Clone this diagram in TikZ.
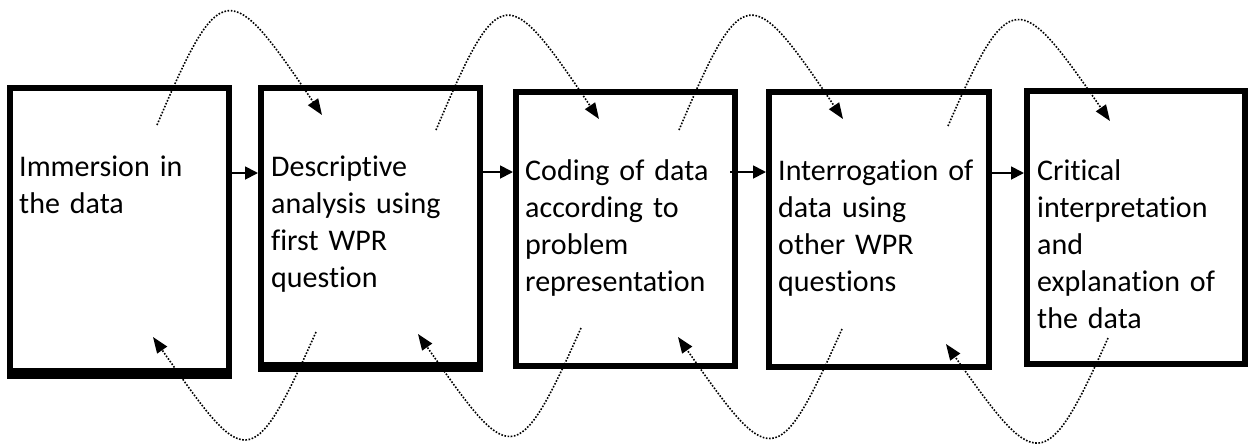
\documentclass[tikz,border=0pt]{standalone}
\usepackage{fontspec}
\setmainfont{Carlito}[Ligatures={NoCommon}]
\usetikzlibrary{arrows.meta}
\begin{document}
\begin{tikzpicture}[x=1pt,y=-1pt,
  stagebox/.style={draw=black, line width=6pt, inner sep=0pt},
  lbl/.style={anchor=north west, inner sep=0pt, text width=218pt, align=left,
    font=\fontsize{30}{37}\selectfont, execute at begin node=\strut},
  stepflow/.style={draw=black, line width=1.8pt, -{Triangle[length=13pt,width=13pt]}},
  feedback/.style={draw=black, line width=1.6pt, dash pattern=on 1.6pt off 1.6pt,
    -{Triangle[length=16pt,width=12pt]}}]
\useasboundingbox (0,0) rectangle (1248,445);

% stage boxes
\node[stagebox, minimum width=219pt, minimum height=283pt] (b1) at (119.5,229.5) {};
\node[stagebox, minimum width=219pt, minimum height=277pt] (b2) at (370.5,226.5) {};
\node[stagebox, minimum width=219pt, minimum height=274pt] (b3) at (625.5,229) {};
\node[stagebox, minimum width=220pt, minimum height=275pt] (b4) at (879,229.5) {};
\node[stagebox, minimum width=218pt, minimum height=272.5pt] (b5) at (1136,227.25) {};

% heavier base lines of the first two boxes
\fill ([yshift=6pt]b1.south west) rectangle ([yshift=-5pt]b1.south east);
\fill ([yshift=6pt]b2.south west) rectangle ([yshift=-4pt]b2.south east);

% stage texts
\node[lbl] (t1) at (19,150) {Immersion in\\the data};
\node[lbl] (t2) at (271,150) {Descriptive\\analysis using\\first WPR\\question};
\node[lbl] (t3) at (525,154) {Coding of data\\according to\\problem\\representation};
\node[lbl] (t4) at (778,154) {Interrogation of\\data using\\other WPR\\questions};
\node[lbl] (t5) at (1037,154) {Critical\\interpretation\\and\\explanation of\\the data};

% forward steps
\draw[stepflow] ([yshift=-88pt]b1.north east) -- ([yshift=-88pt]b2.north west);
\draw[stepflow] ([yshift=-87pt]b2.north east) -- ([yshift=-83pt]b3.north west);
\draw[stepflow] ([xshift=-8pt,yshift=-83pt]b3.north east) -- ([yshift=-83pt]b4.north west);
\draw[stepflow] ([yshift=-84pt]b4.north east) -- ([yshift=-85pt]b5.north west);

% iterative loops over the top
\coordinate (u1s) at (157,125); \coordinate (u1e) at (322,115);
\coordinate (u2s) at (436,130); \coordinate (u2e) at (599,119);
\coordinate (u3s) at (679,130); \coordinate (u3e) at (843,119);
\coordinate (u4s) at (948,126); \coordinate (u4e) at (1110,121);
\draw[feedback] (u1s) .. controls +(64,-151) and +(-92,-136) .. (u1e);
\draw[feedback] (u2s) .. controls +(64,-151) and +(-92,-136) .. (u2e);
\draw[feedback] (u3s) .. controls +(64,-151) and +(-92,-136) .. (u3e);
\draw[feedback] (u4s) .. controls +(62,-143) and +(-90,-130) .. (u4e);

% iterative loops back underneath
\coordinate (d1s) at (316,332); \coordinate (d1e) at (153,337);
\coordinate (d2s) at (581,328); \coordinate (d2e) at (418,334);
\coordinate (d3s) at (842,329); \coordinate (d3e) at (678,337);
\coordinate (d4s) at (1108,338); \coordinate (d4e) at (946,344);
\draw[feedback] (d1s) .. controls +(-65,146) and +(92,131) .. (d1e);
\draw[feedback] (d2s) .. controls +(-65,146) and +(92,131) .. (d2e);
\draw[feedback] (d3s) .. controls +(-65,146) and +(92,131) .. (d3e);
\draw[feedback] (d4s) .. controls +(-63,141) and +(90,127) .. (d4e);
\end{tikzpicture}
\end{document}
